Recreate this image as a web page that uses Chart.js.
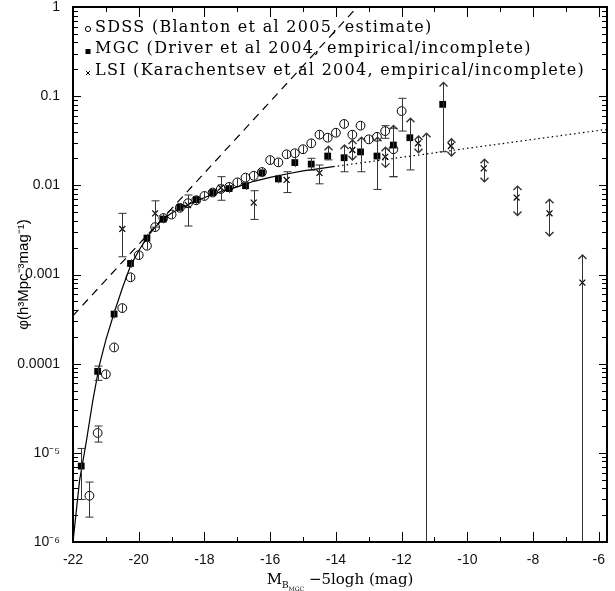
<!DOCTYPE html>
<html>
<head>
<meta charset="utf-8">
<script src="https://cdn.jsdelivr.net/npm/chart.js@4.4.1/dist/chart.umd.min.js"></script>
<style>
  html, body { margin: 0; padding: 0; background: #fff; }
  #wrap { width: 615px; height: 591px; }
</style>
</head>
<body>
<div id="wrap"><canvas id="lf"></canvas></div>
<script>
// SDSS (Blanton et al 2005) - open circles
const sdssM = [-21.5,-21.25,-21.0,-20.75,-20.5,-20.25,-20.0,-19.75,-19.5,-19.25,-19.0,-18.75,-18.5,-18.25,-18.0,-17.75,-17.5,-17.25,-17.0,-16.75,-16.5,-16.25,-16.0,-15.75,-15.5,-15.25,-15.0,-14.75,-14.5,-14.25,-14.0,-13.75,-13.5,-13.25,-13.0,-12.75,-12.5,-12.25,-12.0];
const sdssPhi = [3.3e-6,1.67e-5,7.6e-5,1.52e-4,4.2e-4,9.3e-4,1.65e-3,2.1e-3,3.4e-3,4.3e-3,4.7e-3,5.6e-3,6.3e-3,6.8e-3,7.6e-3,8.3e-3,9.1e-3,9.6e-3,0.0108,0.0122,0.0128,0.0141,0.0192,0.0181,0.0223,0.0229,0.0254,0.0296,0.037,0.0342,0.0389,0.0488,0.037,0.0467,0.0328,0.035,0.0406,0.0254,0.068];
const sdssLo = [1.9e-6,1.32e-5,6.9e-5,1.4e-4,3.9e-4,8.7e-4,1.55e-3,1.97e-3,3.2e-3,4.05e-3,4.45e-3,5.3e-3,5.95e-3,6.45e-3,7.2e-3,7.85e-3,8.6e-3,9.1e-3,0.0102,0.0115,0.0121,0.0133,0.0181,0.0171,0.0211,0.0216,0.024,0.0279,0.0349,0.0322,0.0366,0.0459,0.0349,0.0437,0.0305,0.032,0.0337,0.0125,0.0406];
const sdssHi = [4.7e-6,2.0e-5,8.3e-5,1.65e-4,4.5e-4,1.0e-3,1.76e-3,2.24e-3,3.6e-3,4.55e-3,4.95e-3,5.9e-3,6.65e-3,7.15e-3,8.0e-3,8.75e-3,9.6e-3,0.0101,0.0114,0.0129,0.0135,0.0149,0.0203,0.0191,0.0235,0.0242,0.0268,0.0313,0.0391,0.0362,0.0412,0.0517,0.0391,0.0497,0.0351,0.038,0.0467,0.0437,0.0946];

// MGC (Driver et al 2004) - filled squares
const mgcM = [-21.75,-21.25,-20.75,-20.25,-19.75,-19.25,-18.75,-18.25,-17.75,-17.25,-16.75,-16.25,-15.75,-15.25,-14.75,-14.25,-13.75,-13.25,-12.75,-12.25,-11.75,-10.75];
const mgcPhi = [7.1e-6,8.2e-5,3.6e-4,1.33e-3,2.56e-3,4.19e-3,5.66e-3,6.9e-3,8.3e-3,9.2e-3,9.9e-3,0.0138,0.0118,0.018,0.0173,0.0213,0.0204,0.0237,0.0213,0.0283,0.0342,0.081];
const mgcLo = [3.0e-6,6.5e-5,3.3e-4,1.25e-3,2.42e-3,3.98e-3,5.4e-3,6.6e-3,7.95e-3,8.8e-3,9.45e-3,0.0131,0.0105,0.0162,0.0148,0.0193,0.0142,0.0142,9.0e-3,0.0125,0.0149,0.0238];
const mgcHi = [1.12e-5,9.4e-5,3.9e-4,1.41e-3,2.7e-3,4.4e-3,5.92e-3,7.2e-3,8.65e-3,9.6e-3,0.0104,0.0145,0.0131,0.0201,0.0201,0.0275,0.0283,0.0346,0.0346,0.047,0.0565,0.142];
const mgcKind = ['cap','cap','cap','cap','cap','cap','cap','cap','cap','cap','cap','cap','cap','cap','cap','up','up','up','up','up','up','up'];
// MGC bin with no point, only a limit bar down to the axis
const mgcLimM = [-11.25];
const mgcLimHi = [0.0384];

// LSI (Karachentsev et al 2004) - crosses
const lsiM = [-20.5,-19.5,-18.5,-17.5,-16.5,-15.5,-14.5,-13.5,-12.5,-11.5,-10.5,-9.5,-8.5,-7.5,-6.5];
const lsiPhi = [3.24e-3,4.85e-3,6.0e-3,9.4e-3,6.4e-3,0.0115,0.0138,0.0249,0.0209,0.0296,0.0276,0.0155,7.3e-3,4.86e-3,8.1e-4];
const lsiLo = [1.58e-3,3.4e-3,3.5e-3,6.8e-3,4.15e-3,8.3e-3,0.0104,0.0192,0.0159,0.0232,0.0213,0.011,4.6e-3,2.7e-3,1e-6];
const lsiHi = [4.85e-3,6.7e-3,7.8e-3,0.0125,8.7e-3,0.0142,0.0169,0.0322,0.0267,0.0357,0.0333,0.0196,9.8e-3,7.0e-3,1.65e-3];
const lsiKind = ['cap','cap','cap','cap','cap','cap','cap','both','both','both','both','both','both','both','upOnly'];

// fitted curve (solid), its extrapolation (dotted), and the steep power law (dashed)
const fitM = [-22.0,-21.8,-21.6,-21.4,-21.2,-21.0,-20.75,-20.5,-20.25,-20.0,-19.75,-19.5,-19.25,-19.0,-18.5,-18.0,-17.5,-17.0,-16.5,-16.0,-15.5,-15.0,-14.5,-14.08];
const fitPhi = [1.0e-6,4.9e-6,1.3e-5,3.8e-5,9.5e-5,1.85e-4,3.7e-4,7.0e-4,1.25e-3,1.85e-3,2.6e-3,3.4e-3,4.2e-3,4.9e-3,6.1e-3,7.3e-3,8.5e-3,9.6e-3,0.0111,0.0123,0.0134,0.0145,0.0154,0.0162];
const dotM = [-14.08,-5.75];
const dotPhi = [0.0162,0.0425];
const dashM = [-22.0,-13.35];
const dashPhi = [3.45e-4,1.0];

const xTickValues = [-22,-20,-18,-16,-14,-12,-10,-8,-6];
const yTickValues = [1e-6,1e-5,1e-4,1e-3,1e-2,1e-1,1];
const yTickLabels = ['10⁻⁶','10⁻⁵','0.0001','0.001','0.01','0.1','1'];
const legendLabels = [
  'SDSS (Blanton et al 2005, estimate)',
  'MGC (Driver et al 2004, empirical/incomplete)',
  'LSI (Karachentsev et al 2004, empirical/incomplete)'
];

const pts = (xs, ys) => xs.map((v, i) => ({ x: v, y: ys[i] }));
const serif = '"DejaVu Serif", serif';
const sans = '"Liberation Sans", Arial, sans-serif';

// error bars, caps and limit arrows
const errBars = {
  id: 'errBars',
  afterDatasetsDraw(chart) {
    const { ctx, chartArea: a, scales: { x, y } } = chart;
    ctx.save();
    ctx.beginPath();
    ctx.rect(a.left, a.top, a.right - a.left, a.bottom - a.top);
    ctx.clip();
    ctx.strokeStyle = '#333';
    ctx.lineWidth = 1;
    const seg = (x1, y1, x2, y2) => { ctx.beginPath(); ctx.moveTo(x1, y1); ctx.lineTo(x2, y2); ctx.stroke(); };
    chart.data.datasets.forEach(ds => {
      if (!ds.errLo) return;
      const r = ds.pointRadius || 0;
      ds.data.forEach((p, i) => {
        const px = Math.round(x.getPixelForValue(p.x)) + 0.5;
        const py = y.getPixelForValue(p.y);
        const lo = y.getPixelForValue(ds.errLo[i]);
        const hi = y.getPixelForValue(ds.errHi[i]);
        const kind = ds.errKind ? ds.errKind[i] : 'cap';
        if (r > 0 && kind === 'cap' && lo - py <= r && py - hi <= r) {
          seg(px, py - r + 0.5, px, py + r - 0.5);
          return;
        }
        seg(px, lo, px, hi);
        if (kind === 'up' || kind === 'both' || kind === 'upOnly') {
          ctx.lineWidth = 1.4;
          ctx.beginPath(); ctx.moveTo(px - 4, hi + 4); ctx.lineTo(px, hi); ctx.lineTo(px + 4, hi + 4); ctx.stroke();
          ctx.lineWidth = 1;
        } else {
          seg(px - 4, hi, px + 4, hi);
        }
        if (kind === 'both') {
          ctx.lineWidth = 1.4;
          ctx.beginPath(); ctx.moveTo(px - 4, lo - 4); ctx.lineTo(px, lo); ctx.lineTo(px + 4, lo - 4); ctx.stroke();
          ctx.lineWidth = 1;
        } else if (kind !== 'upOnly') {
          seg(px - 4, lo, px + 4, lo);
        }
      });
    });
    ctx.restore();
  }
};

// frame, inward ticks, legend and axis titles
const decor = {
  id: 'decor',
  afterDraw(chart) {
    const { ctx, chartArea: a, scales: { x, y } } = chart;
    ctx.save();
    ctx.strokeStyle = '#000';
    ctx.lineWidth = 1;
    for (let m = -22; m <= -6; m++) {
      const px = Math.round(x.getPixelForValue(m)) + 0.5;
      const len = (m % 2 === 0) ? 10 : 5;
      ctx.beginPath();
      ctx.moveTo(px, a.bottom); ctx.lineTo(px, a.bottom - len);
      ctx.moveTo(px, a.top); ctx.lineTo(px, a.top + len);
      ctx.stroke();
    }
    for (let d = -6; d <= 0; d++) {
      for (let k = 1; k <= 9; k++) {
        const v = k * Math.pow(10, d);
        if (v > 1) break;
        const py = Math.round(y.getPixelForValue(v)) + 0.5;
        const len = k === 1 ? 8 : 5;
        ctx.beginPath();
        ctx.moveTo(a.left, py); ctx.lineTo(a.left + len, py);
        ctx.moveTo(a.right, py); ctx.lineTo(a.right - len, py);
        ctx.stroke();
      }
    }
    ctx.lineWidth = 2;
    ctx.strokeRect(a.left, a.top, a.right - a.left, a.bottom - a.top);

    // legend
    ctx.fillStyle = '#000';
    ctx.font = '16px ' + serif;
    ctx.textBaseline = 'alphabetic';
    ctx.letterSpacing = '0px';
    const wLong = ctx.measureText(legendLabels[2]).width;
    const ls = Math.max(0, (490 - wLong) / legendLabels[2].length);
    ctx.letterSpacing = ls.toFixed(2) + 'px';
    const rows = [31.5, 53, 74.5];
    legendLabels.forEach((t, i) => {
      const mx = 88, my = rows[i] - 2.5;
      ctx.lineWidth = 1;
      if (i === 0) { ctx.beginPath(); ctx.arc(mx, my, 2.6, 0, Math.PI * 2); ctx.stroke(); }
      if (i === 1) { ctx.fillRect(mx - 2.5, my - 1.5, 5, 5); }
      if (i === 2) {
        ctx.beginPath();
        ctx.moveTo(mx - 2, my - 1); ctx.lineTo(mx + 2, my + 3);
        ctx.moveTo(mx + 2, my - 1); ctx.lineTo(mx - 2, my + 3);
        ctx.stroke();
      }
      ctx.fillText(t, 95, rows[i]);
    });
    ctx.letterSpacing = '0px';

    // x title: M_{B_MGC} -5logh (mag)
    const parts = [
      { t: 'M', f: '15px ' + serif, dy: 0 },
      { t: 'B', f: '9px ' + serif, dy: 4 },
      { t: 'MGC', f: '6px ' + serif, dy: 7 },
      { t: ' −5logh (mag)', f: '15px ' + serif, dy: 0 }
    ];
    let total = 0;
    parts.forEach(p => { ctx.font = p.f; p.w = ctx.measureText(p.t).width; total += p.w; });
    let cx = (a.left + a.right) / 2 - total / 2;
    const base = 584;
    parts.forEach(p => { ctx.font = p.f; ctx.fillText(p.t, cx, base + p.dy); cx += p.w; });

    // y title
    ctx.save();
    ctx.translate(24, (a.top + a.bottom) / 2);
    ctx.rotate(-Math.PI / 2);
    ctx.font = '15px ' + sans;
    ctx.textAlign = 'center';
    ctx.textBaseline = 'middle';
    ctx.fillText('φ(h³Mpc⁻³mag⁻¹)', 0, 0);
    ctx.restore();
    ctx.restore();
  }
};

new Chart(document.getElementById('lf'), {
  type: 'scatter',
  data: {
    datasets: [
      { label: legendLabels[0], data: pts(sdssM, sdssPhi), errLo: sdssLo, errHi: sdssHi,
        pointStyle: 'circle', pointRadius: 4.4, borderColor: '#000', borderWidth: 1, backgroundColor: 'rgba(0,0,0,0)' },
      { label: legendLabels[1], data: pts(mgcM, mgcPhi), errLo: mgcLo, errHi: mgcHi, errKind: mgcKind,
        pointStyle: 'rect', pointRadius: 4.8, borderColor: '#000', borderWidth: 0, backgroundColor: '#000' },
      { label: 'MGC limit', data: pts(mgcLimM, mgcLimHi), errLo: [1e-6], errHi: mgcLimHi, errKind: ['upOnly'],
        pointRadius: 0 },
      { label: legendLabels[2], data: pts(lsiM, lsiPhi), errLo: lsiLo, errHi: lsiHi, errKind: lsiKind,
        pointStyle: 'crossRot', pointRadius: 4.2, borderColor: '#000', borderWidth: 1.2 },
      { label: 'fit', data: pts(fitM, fitPhi), showLine: true, pointRadius: 0, borderColor: '#000', borderWidth: 1.2 },
      { label: 'extrapolation', data: pts(dotM, dotPhi), showLine: true, pointRadius: 0, borderColor: '#000', borderWidth: 1.2, borderDash: [1.5, 3] },
      { label: 'alpha=-2', data: pts(dashM, dashPhi), showLine: true, pointRadius: 0, borderColor: '#000', borderWidth: 1.2, borderDash: [8, 6] }
    ]
  },
  options: {
    responsive: true,
    maintainAspectRatio: false,
    animation: false,
    events: [],
    layout: { padding: { left: 0, right: 8, top: 7, bottom: 0 } },
    plugins: { legend: { display: false }, tooltip: { enabled: false } },
    scales: {
      x: {
        type: 'linear', min: -22, max: -5.75,
        grid: { display: false, drawTicks: false }, border: { display: false },
        afterBuildTicks: s => { s.ticks = xTickValues.map(v => ({ value: v })); },
        afterFit: s => { s.height = 49; s.paddingLeft = 0; s.paddingRight = 0; },
        ticks: { color: '#111', font: { family: sans, size: 14 }, padding: 10, maxRotation: 0, autoSkip: false }
      },
      y: {
        type: 'logarithmic', min: 1e-6, max: 1,
        grid: { display: false, drawTicks: false }, border: { display: false },
        afterBuildTicks: s => { s.ticks = yTickValues.map(v => ({ value: v })); },
        afterFit: s => { s.width = 73; s.paddingTop = 0; s.paddingBottom = 0; },
        ticks: {
          color: '#111', font: { family: sans, size: 14 }, padding: 13, autoSkip: false,
          callback: v => { const i = yTickValues.findIndex(t => Math.abs(Math.log10(t) - Math.log10(v)) < 1e-6); return i >= 0 ? yTickLabels[i] : ''; }
        }
      }
    }
  },
  plugins: [errBars, decor]
});
</script>
</body>
</html>
